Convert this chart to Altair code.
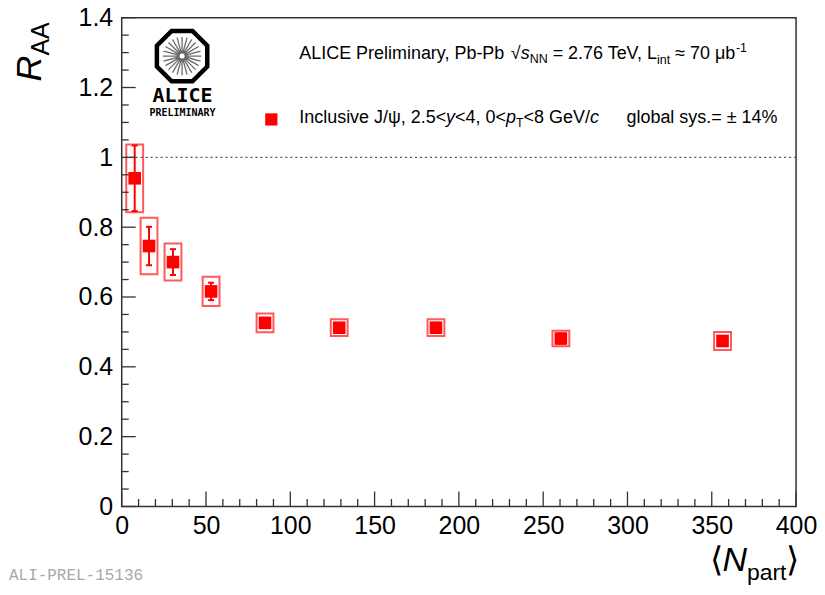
import altair as alt
import pandas as pd
import numpy as np

# ---------------- data ----------------
npart = [7.7, 16.2, 30.4, 53.0, 85.0, 129.0, 186.4, 260.5, 356.4]
raa = [0.940, 0.746, 0.700, 0.616, 0.526, 0.512, 0.512, 0.481, 0.474]
stat_err = [0.094, 0.055, 0.037, 0.025, 0.012, 0.008, 0.014, 0.014, 0.008]
sys_err = [0.097, 0.081, 0.053, 0.042, 0.027, 0.024, 0.024, 0.022, 0.026]
sys_half_width = 5.0  # half width of the systematic boxes, in <Npart> units

x_major = [0, 50, 100, 150, 200, 250, 300, 350, 400]
x_minor = [v for v in range(0, 401, 10) if v % 50 != 0]
y_major = [0, 0.2, 0.4, 0.6, 0.8, 1.0, 1.2, 1.4]
y_minor = [round(0.05 * k, 2) for k in range(29) if k % 4 != 0]

# ---------------- geometry ----------------
W, H = 676, 490
OX, OY = 122, 17  # page position of the plot area


def px(x):
    return x - OX


def py(y):
    return y - OY


df = pd.DataFrame({"npart": npart, "raa": raa, "stat": stat_err, "sys": sys_err})
df["xlo"] = df["npart"] - sys_half_width
df["xhi"] = df["npart"] + sys_half_width
df["ylo"] = df["raa"] - df["sys"]
df["yhi"] = df["raa"] + df["sys"]
df["slo"] = df["raa"] - df["stat"]
df["shi"] = df["raa"] + df["stat"]

xs = alt.Scale(domain=[0, 400], nice=False, zero=False)
ys = alt.Scale(domain=[0, 1.4], nice=False, zero=False)
XAX = alt.Axis(
    values=x_major, ticks=False, domain=False, grid=False, title=None,
    labelFont="Liberation Sans", labelFontSize=25, labelColor="black",
    labelPadding=7, labelFlush=False, labelOverlap=False,
)
YAX = alt.Axis(
    values=y_major, ticks=False, domain=False, grid=False, title=None,
    format=".1~f", labelFont="Liberation Sans", labelFontSize=25,
    labelColor="black", labelPadding=9, labelFlush=False, labelOverlap=False,
)
RED = "#ff0000"
FRAME = "#333333"


def X(f):
    return alt.X(f, scale=xs, axis=XAX)


def Y(f):
    return alt.Y(f, scale=ys, axis=YAX)


base = alt.Chart(df)

unity = alt.Chart(pd.DataFrame({"y": [1.0]})).mark_rule(
    strokeDash=[2, 3], color="#555555", strokeWidth=1.3
).encode(y=Y("y:Q"))

boxes = base.mark_rect(fillOpacity=0, stroke=RED, strokeOpacity=0.65, strokeWidth=2).encode(
    x=X("xlo:Q"), x2="xhi:Q", y=Y("ylo:Q"), y2="yhi:Q",
)

err = base.mark_rule(color=RED, strokeWidth=2).encode(
    x=X("npart:Q"), y=Y("slo:Q"), y2="shi:Q",
)
cap_lo = base.mark_tick(orient="horizontal", size=6, thickness=2, color=RED, opacity=1).encode(
    x=X("npart:Q"), y=Y("slo:Q")
)
cap_hi = base.mark_tick(orient="horizontal", size=6, thickness=2, color=RED, opacity=1).encode(
    x=X("npart:Q"), y=Y("shi:Q")
)

markers = base.mark_square(size=160, color=RED, opacity=1, filled=True).encode(
    x=X("npart:Q"), y=Y("raa:Q"),
)


# inward ROOT-style ticks
def xticks(vals, length):
    return alt.Chart(pd.DataFrame({"v": vals})).mark_rule(color=FRAME, strokeWidth=1.3).encode(
        x=X("v:Q"), y=alt.value(H), y2=alt.value(H - length)
    )


def yticks(vals, length):
    return alt.Chart(pd.DataFrame({"v": vals})).mark_rule(color=FRAME, strokeWidth=1.3).encode(
        y=Y("v:Q"), x=alt.value(0), x2=alt.value(length)
    )


tick_layers = [xticks(x_major, 15), xticks(x_minor, 7.5), yticks(y_major, 14), yticks(y_minor, 7)]

# ---------------- text helpers ----------------
AW = {
    " ": 278, ".": 278, ",": 278, "-": 333, "=": 584, "<": 584, ">": 584, "/": 278,
    "%": 889, "±": 584, "≈": 584, "μ": 576, "ψ": 700, "√": 549, "⟨": 360, "⟩": 300,
    "A": 667, "B": 667, "C": 722, "D": 722, "E": 667, "F": 611, "G": 778, "H": 722,
    "I": 278, "J": 500, "K": 667, "L": 556, "M": 833, "N": 722, "O": 778, "P": 667,
    "R": 722, "S": 667, "T": 611, "U": 722, "V": 667, "Y": 667,
    "a": 556, "b": 556, "c": 500, "d": 556, "e": 556, "f": 278, "g": 556, "h": 556,
    "i": 222, "j": 222, "k": 500, "l": 222, "m": 833, "n": 556, "o": 556, "p": 556,
    "r": 333, "s": 500, "t": 278, "u": 556, "v": 500, "w": 722, "x": 500, "y": 500,
}
KERN = {("T", "e"): -111, ("V", ","): -111}


def tw(s, size):
    total = sum(AW.get(c, 556) for c in s)
    total += sum(KERN.get((a, b), 0) for a, b in zip(s, s[1:]))
    return total * size / 1000.0


def text_layer(txt, x, y, size, style="normal", weight="normal", font="Liberation Sans",
               align="left", angle=0, color="black", baseline="alphabetic"):
    return alt.Chart(alt.Data(values=[{"t": txt}])).mark_text(
        align=align, baseline=baseline, font=font, fontSize=size, fontStyle=style,
        fontWeight=weight, angle=angle, color=color,
    ).encode(text="t:N", x=alt.value(x), y=alt.value(y))


def run(parts, x0, y0):
    """Lay out text pieces left to right; leading spaces become an x offset
    (SVG would collapse them)."""
    out = []
    x = x0
    for t, size, style, dy in parts:
        core = t.lstrip(" ")
        lead = len(t) - len(core)
        x += tw(" " * lead, size)
        out.append(text_layer(core, x, y0 + dy, size, style))
        x += tw(core, size)
    return out


F, S = 18, 12.5
line1 = run([
    ("ALICE Preliminary, Pb-Pb ", F, "normal", 0),
    ("√", F, "normal", 0),
    ("s", F, "italic", 0),
    ("NN", S, "normal", 4),
    (" = 2.76 TeV, L", F, "normal", 0),
    ("int", S, "normal", 5),
    (" ≈ 70 μb", F, "normal", 0),
    ("-1", S, "normal", -7),
], px(300), py(58))

line2 = run([
    ("Inclusive J/ψ, 2.5<", F, "normal", 0),
    ("y", F, "italic", 0),
    ("<4, 0<", F, "normal", 0),
    ("p", F, "italic", 0),
    ("T", S, "normal", 4),
    ("<8 GeV/", F, "normal", 0),
    ("c", F, "italic", 0),
], px(300), py(123))

glob = [text_layer("global sys.= ± 14%", px(628), py(123), F)]

legend_marker = alt.Chart(alt.Data(values=[{"k": 1}])).mark_square(
    size=150, color=RED, opacity=1, filled=True
).encode(x=alt.value(px(272)), y=alt.value(py(119)))

# axis titles
ytitle = [
    text_layer("R", px(41), py(81), 36, style="italic", angle=270),
    text_layer("AA", px(49), py(81) - tw("R", 36), 25, angle=270),
]
xt_parts = [("⟨", 34, "normal", 0), ("N", 34, "italic", 0), ("part", 23, "normal", 9), ("⟩", 34, "normal", 0)]
xtitle = run(xt_parts, px(712), py(572))

# ALICE logo
octagon = "M-0.4142,-1L0.4142,-1L1,-0.4142L1,0.4142L0.4142,1L-0.4142,1L-1,0.4142L-1,-0.4142Z"
rays = ""
for k in range(24):
    a = np.deg2rad(k * 15.0)
    rays += "M{:.3f},{:.3f}L{:.3f},{:.3f}".format(0.1 * np.cos(a), 0.1 * np.sin(a),
                                                 0.76 * np.cos(a), 0.76 * np.sin(a))
logo_oct = alt.Chart(alt.Data(values=[{"k": 1}])).mark_point(
    shape=octagon, size=2550, filled=False, stroke="black", strokeWidth=4.5, opacity=1
).encode(x=alt.value(px(182.5)), y=alt.value(py(55.5)))
logo_rays = alt.Chart(alt.Data(values=[{"k": 1}])).mark_point(
    shape=rays, size=2550, filled=False, stroke="#6a6a6a", strokeWidth=1.3, opacity=1
).encode(x=alt.value(px(182.5)), y=alt.value(py(55.5)))
logo_txt = [
    text_layer("ALICE", px(183), py(102), 20, weight="bold", font="DejaVu Sans Mono", align="center"),
    text_layer("PRELIMINARY", px(183), py(116), 10, weight="bold", font="DejaVu Sans Mono", align="center"),
]

watermark = [text_layer("ALI-PREL-15136", px(9), py(581), 16, font="Liberation Mono", color="#a8a8a8")]

layers = [unity, boxes, err, cap_lo, cap_hi, markers] + tick_layers + line1 + line2 + glob + \
    [legend_marker] + ytitle + xtitle + [logo_oct, logo_rays] + logo_txt + watermark

chart = alt.layer(*layers).properties(
    width=W, height=H,
    padding={"left": 114, "top": 9, "right": 21, "bottom": 80},
    autosize="none",
    background="white",
).configure_view(stroke=FRAME, strokeWidth=1.5)

chart.save("out.html", embed_options={"renderer": "svg", "actions": False})
